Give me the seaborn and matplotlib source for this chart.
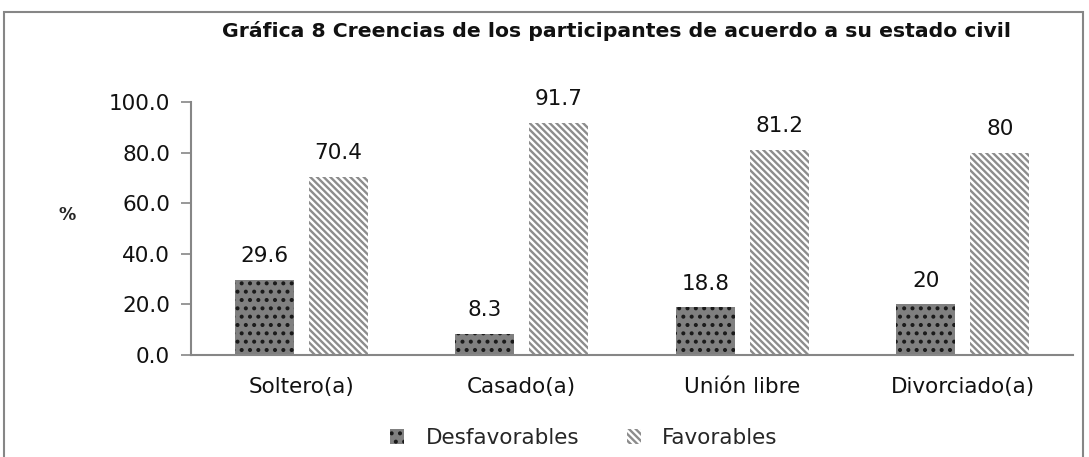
import matplotlib
matplotlib.use("Agg")
import matplotlib.pyplot as plt
import seaborn as sns
import pandas as pd
from matplotlib.patches import Patch, Rectangle

categories = ["Soltero(a)", "Casado(a)", "Unión libre", "Divorciado(a)"]
series_names = ["Desfavorables", "Favorables"]
desfavorables = [29.6, 8.3, 18.8, 20]
favorables = [70.4, 91.7, 81.2, 80]
label_desf = ["29.6", "8.3", "18.8", "20"]
label_fav = ["70.4", "91.7", "81.2", "80"]
yticks = [0, 20, 40, 60, 80, 100]
title = "Gráfica 8 Creencias de los participantes de acuerdo a su estado civil"

df = pd.DataFrame({
    "cat": categories * 2,
    "serie": [series_names[0]] * 4 + [series_names[1]] * 4,
    "val": desfavorables + favorables,
})

sns.set_theme(style="white")
plt.rcParams["font.family"] = ["DejaVu Sans"]
plt.rcParams["hatch.linewidth"] = 1.7

FS = 15.5
W, H = 1089, 457
fig = plt.figure(figsize=(W / 100, H / 100), dpi=100)
ax = fig.add_axes([191 / W, 1 - 355 / H, (1073 - 191) / W, (355 - 102) / H])

sns.barplot(data=df, x="cat", y="val", hue="serie", order=categories,
            hue_order=series_names, palette=["#808080", "#ffffff"],
            width=0.672, gap=0.205, ax=ax, legend=False, errorbar=None,
            saturation=1)

styles = {
    0: dict(face="#808080", edge="#1a1a1a", hatch=".."),
    1: dict(face="#ffffff", edge="#8c8c8c", hatch="\\\\\\\\\\"),
}
for i, cont in enumerate(ax.containers):
    st = styles[i]
    for p in cont:
        p.set_facecolor(st["face"])
        p.set_edgecolor(st["edge"])
        p.set_hatch(st["hatch"])
        p.set_linewidth(0)
    labels = label_desf if i == 0 else label_fav
    ax.bar_label(cont, labels=labels, padding=10, fontsize=FS, color="#111111")

ax.set_ylim(0, 100)
ax.set_yticks(yticks)
ax.set_yticklabels([f"{v:.1f}" for v in yticks])
ax.set_xlim(-0.5, 3.5)
ax.set_xlabel("")
ax.set_ylabel("%", rotation=0, fontsize=12.5, fontweight="bold", labelpad=0,
              va="center", ha="center")
ax.yaxis.set_label_coords(-0.140, 0.553)

for s in ["top", "right"]:
    ax.spines[s].set_visible(False)
for s in ["left", "bottom"]:
    ax.spines[s].set_color("#868686")
    ax.spines[s].set_linewidth(1.5)
ax.tick_params(axis="y", which="both", left=True, length=7, width=1.2,
               color="#868686", labelsize=FS, labelcolor="#111111", pad=8)
ax.tick_params(axis="x", bottom=False, labelsize=FS, labelcolor="#111111", pad=10)

fig.text(616 / W, 1 - 31 / H, title, ha="center", va="center",
         fontsize=14.7, fontweight="bold",
         family=["DejaVu Sans"], color="#111111")

handles = [
    Patch(facecolor=styles[0]["face"], edgecolor=styles[0]["edge"], hatch=styles[0]["hatch"], linewidth=0, label=series_names[0]),
    Patch(facecolor=styles[1]["face"], edgecolor=styles[1]["edge"], hatch=styles[1]["hatch"], linewidth=0, label=series_names[1]),
]
fig.legend(handles=handles, loc="center", bbox_to_anchor=(584 / W, 1 - 438 / H),
           ncol=2, frameon=False, fontsize=FS, handlelength=0.65, handleheight=0.65,
           handletextpad=1.0, columnspacing=2.2)

fig.add_artist(Rectangle((4 / W, -0.1), (1083 - 4) / W, 1.1 - 12 / H,
                         transform=fig.transFigure, fill=False,
                         edgecolor="#868686", linewidth=1.5))

fig.savefig("out.png", dpi=100)
